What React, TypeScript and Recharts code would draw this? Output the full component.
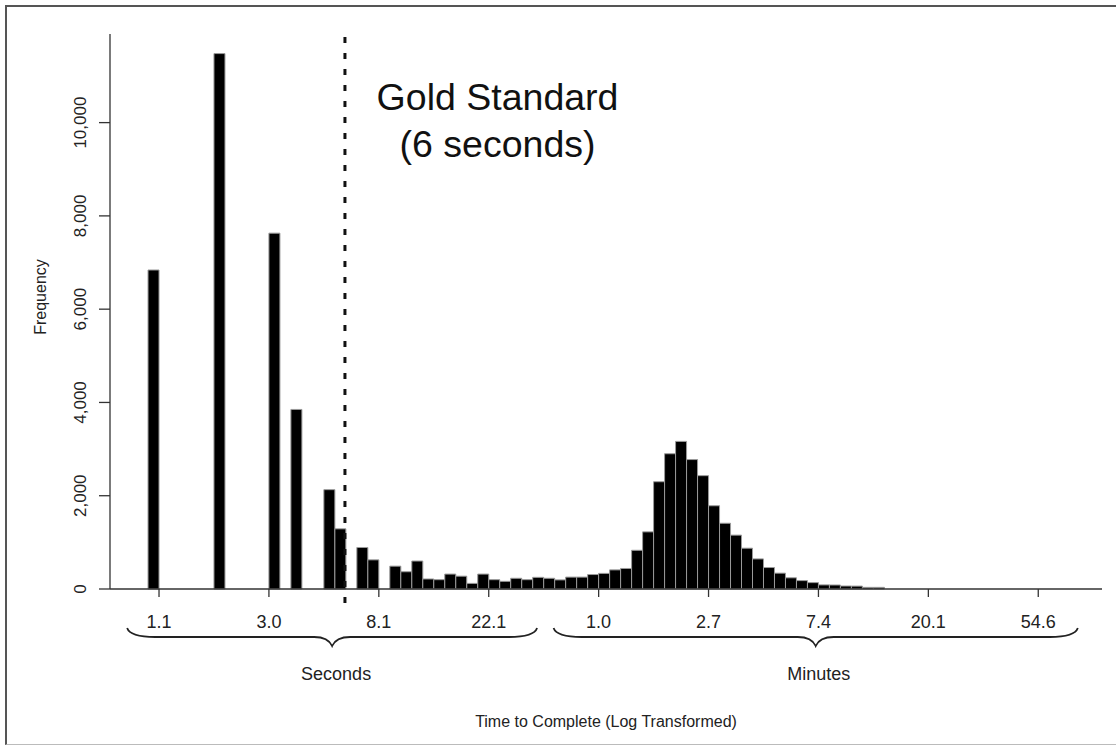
import React from "react";
import { BarChart, Bar, XAxis, YAxis, ReferenceLine, Customized } from "recharts";

// histogram of ln(seconds), bins 0.1 wide starting at 0
const binWidth = 0.1;
const frequency = [
  6840, 0, 0, 0, 0, 0, 11480, 0, 0, 0, 0, 7630, 0, 3850, 0, 0, 2130, 1290, 0, 890,
  625, 0, 490, 370, 600, 215, 200, 320, 275, 120, 320, 200, 165, 230, 200, 250, 230, 195, 255, 255,
  310, 335, 410, 440, 830, 1225, 2300, 2900, 3165, 2775, 2430, 1785, 1410, 1155, 875, 645, 460, 340, 240, 180,
  137, 88, 86, 64, 62, 35, 35,
];

const xTicks = [0.1, 1.1, 2.1, 3.1, 4.1, 5.1, 6.1, 7.1, 8.1];
const xTickLabels = ["1.1", "3.0", "8.1", "22.1", "1.0", "2.7", "7.4", "20.1", "54.6"];
const yTicks = [0, 2000, 4000, 6000, 8000, 10000];

const goldStandardSeconds = 6;
const secondsSpan = [-0.19, 3.54];
const minutesSpan = [3.69, 8.46];

const data = frequency.map((count, i) => ({ x: (i + 0.5) * binWidth, count }));

const W = 1116;
const H = 747;
const xDomain = [-0.346, 8.68];
const plotLeft = 110;
const plotRight = 1102;
const font = "'Liberation Sans', Arial, Helvetica, sans-serif";

const xPx = (v: number) =>
  plotLeft + ((v - xDomain[0]) / (xDomain[1] - xDomain[0])) * (plotRight - plotLeft);

const bracePath = (x1: number, x2: number, yTip: number) => {
  const mid = (x1 + x2) / 2;
  const yLine = yTip + 9;
  const yPoint = yLine + 9;
  return `M${x1},${yTip} Q${x1 + 3},${yLine} ${x1 + 28},${yLine} L${mid - 18},${yLine} Q${mid - 4},${yLine} ${mid},${yPoint} Q${mid + 4},${yLine} ${mid + 18},${yLine} L${x2 - 28},${yLine} Q${x2 - 3},${yLine} ${x2},${yTip}`;
};

const YTick = (props: any) => {
  const { x, y, payload } = props;
  return (
    <text
      x={x}
      y={y}
      transform={`rotate(-90 ${x} ${y})`}
      textAnchor="middle"
      fontSize={17}
      fill="#222"
    >
      {Number(payload.value).toLocaleString("en-US")}
    </text>
  );
};

const Annotations = () => {
  const s1 = xPx(secondsSpan[0]);
  const s2 = xPx(secondsSpan[1]);
  const m1 = xPx(minutesSpan[0]);
  const m2 = xPx(minutesSpan[1]);
  const textX = xPx(3.18);
  return (
    <g fontFamily={font}>
      <path d={bracePath(s1, s2, 628)} fill="none" stroke="#222" strokeWidth={1.8} />
      <path d={bracePath(m1, m2, 628)} fill="none" stroke="#222" strokeWidth={1.8} />
      <text x={(s1 + s2) / 2 + 4} y={680} textAnchor="middle" fontSize={18} fill="#222">
        Seconds
      </text>
      <text x={(m1 + m2) / 2 + 3} y={680} textAnchor="middle" fontSize={18} fill="#222">
        Minutes
      </text>
      <text x={46} y={297} transform="rotate(-90 46 297)" textAnchor="middle" fontSize={16} fill="#222">
        Frequency
      </text>
      <text x={textX} y={110} textAnchor="middle" fontSize={37.5} fill="#111">
        Gold Standard
      </text>
      <text x={textX} y={157} textAnchor="middle" fontSize={37.5} fill="#111">
        (6 seconds)
      </text>
    </g>
  );
};

export default function App() {
  const goldX = Math.log(goldStandardSeconds);
  return (
    <div style={{ position: "absolute", left: 0, top: 0, width: W, height: H, background: "#fff", fontFamily: font }}>
      <div
        style={{
          position: "absolute",
          left: 5,
          top: 5,
          width: W,
          height: H - 7,
          borderTop: "2px solid #555",
          borderLeft: "2px solid #555",
          borderBottom: "1px solid #bbb",
          boxSizing: "border-box",
        }}
      />
      <div style={{ position: "absolute", left: 0, top: 0 }}>
        <BarChart
          width={W}
          height={H}
          data={data}
          margin={{ top: 34, right: W - plotRight, bottom: 0, left: 0 }}
          barCategoryGap={0}
          barGap={0}
        >
          <XAxis
            dataKey="x"
            type="number"
            domain={xDomain}
            allowDataOverflow
            ticks={xTicks}
            interval={0}
            tickFormatter={(_v: number, i: number) => xTickLabels[i]}
            height={H - 589}
            tickSize={8}
            tickMargin={18}
            stroke="#333"
            strokeWidth={1.3}
            tick={{ fontSize: 18, fill: "#222" }}
            label={{ value: "Time to Complete (Log Transformed)", position: "insideBottom", offset: 20, fontSize: 16, fill: "#222" }}
          />
          <YAxis
            type="number"
            domain={[0, 11900]}
            ticks={yTicks}
            interval={0}
            width={plotLeft}
            tickSize={11}
            tickMargin={13}
            stroke="#333"
            strokeWidth={1.3}
            tick={<YTick />}
          />
          <Bar dataKey="count" fill="#000" stroke="#9a9a9a" strokeWidth={1} isAnimationActive={false} />
          <ReferenceLine
            segment={[{ x: goldX, y: -300 }, { x: goldX, y: 11880 }]}
            stroke="#111"
            strokeWidth={3}
            strokeDasharray="6 10"
            ifOverflow="visible"
          />
          <Customized component={Annotations} />
        </BarChart>
      </div>
    </div>
  );
}
